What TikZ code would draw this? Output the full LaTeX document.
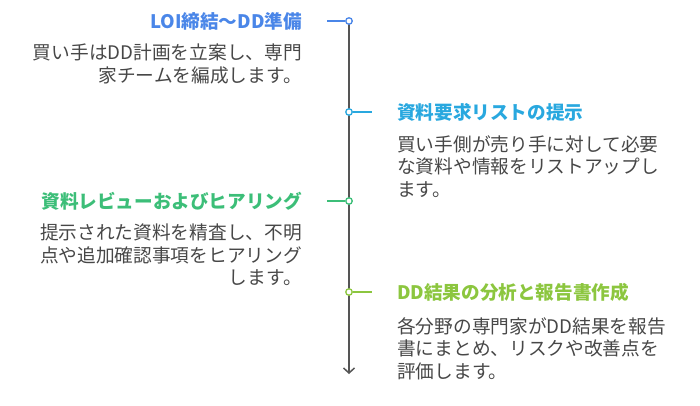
\documentclass[tikz,border=0pt]{standalone}
\usepackage{fontspec}
\newfontfamily\jp{Noto Sans CJK JP}
\usetikzlibrary{arrows.meta}
\definecolor{cblue}{HTML}{4A86E8}
\definecolor{ccyan}{HTML}{29A8DF}
\definecolor{cgreen}{HTML}{3CBE78}
\definecolor{clime}{HTML}{8CC63F}
\definecolor{ctext}{HTML}{474747}
\definecolor{cline}{HTML}{555555}
\tikzset{
  title/.style={font=\jp\bfseries\fontsize{18.6}{22}\selectfont, inner sep=0pt},
  body/.style={font=\jp\fontsize{18.7}{22.5}\selectfont, text=ctext, inner sep=0pt},
  dot/.style={circle, draw=#1, fill=white, line width=1.3pt, minimum size=6.5pt, inner sep=0pt},
  tick/.style={draw=#1, line width=1.3pt},
}
\begin{document}
\begin{tikzpicture}[x=1pt,y=-1pt]
\useasboundingbox (0,0) rectangle (700,405);
\coordinate (top) at (349,19);
\coordinate (bot) at (349,374);
\draw[cline, line width=1.8pt, -{Straight Barb[length=5pt,width=11pt,line width=1.5pt]}] (top) -- (bot);
% step 1
\node[dot=cblue] (d1) at (349,21) {};
\coordinate (t1) at (327,21);
\draw[tick=cblue] (t1) -- (d1);
\node[title, text=cblue, anchor=east] (h1) at (302,21) {LOI締結～DD準備};
\node[body, align=right, anchor=north east] (b1) at (302,44) {買い手はDD計画を立案し、専門\\家チームを編成します。};
% step 2
\node[dot=ccyan] (d2) at (349,112) {};
\coordinate (t2) at (372,112);
\draw[tick=ccyan] (d2) -- (t2);
\node[title, text=ccyan, anchor=west] (h2) at (397,112) {資料要求リストの提示};
\node[body, align=left, anchor=north west] (b2) at (397,135) {買い手側が売り手に対して必要\\な資料や情報をリストアップし\\ます。};
% step 3
\node[dot=cgreen] (d3) at (349,201) {};
\coordinate (t3) at (327,201);
\draw[tick=cgreen] (t3) -- (d3);
\node[title, text=cgreen, anchor=east] (h3) at (302,201) {資料レビューおよびヒアリング};
\node[body, align=right, anchor=north east] (b3) at (302,224) {提示された資料を精査し、不明\\点や追加確認事項をヒアリング\\します。};
% step 4
\node[dot=clime] (d4) at (349,292) {};
\coordinate (t4) at (372,292);
\draw[tick=clime] (d4) -- (t4);
\node[title, text=clime, anchor=west] (h4) at (397,292) {DD結果の分析と報告書作成};
\node[body, align=left, anchor=north west] (b4) at (397,317) {各分野の専門家がDD結果を報告\\書にまとめ、リスクや改善点を\\評価します。};
\end{tikzpicture}
\end{document}
